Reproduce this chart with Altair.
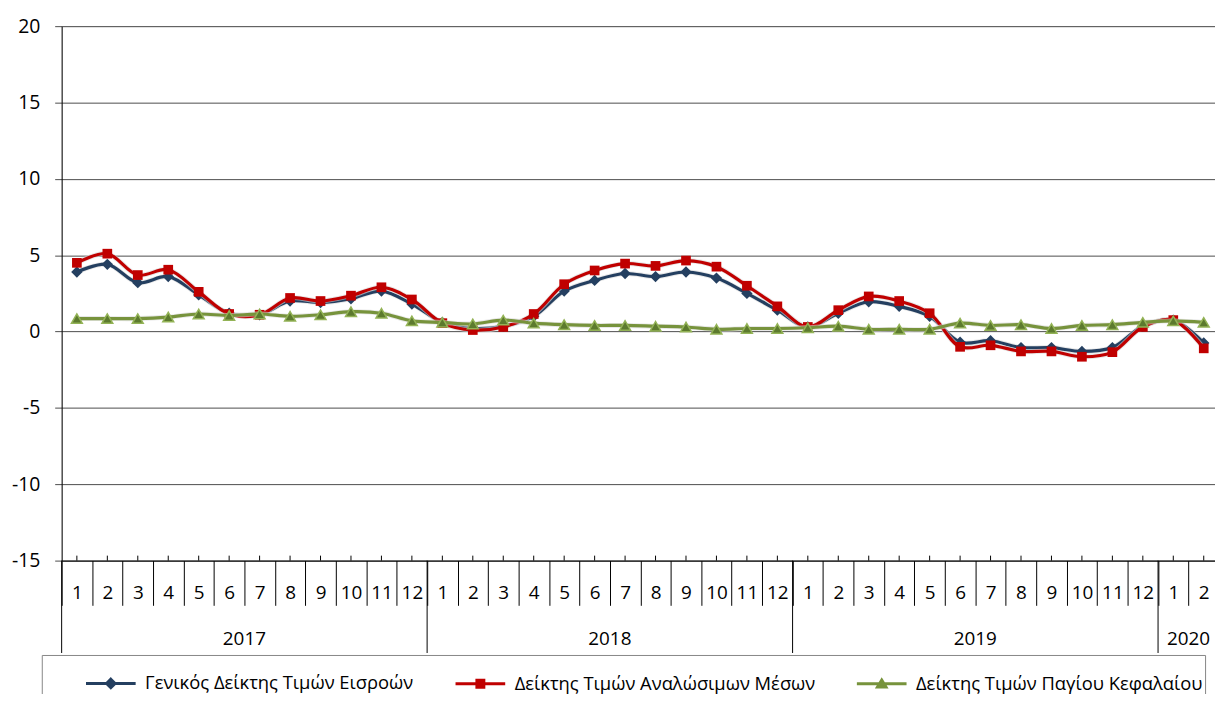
import altair as alt
import pandas as pd

FONT = "Open Sans"

YEARS = ["2017"] * 12 + ["2018"] * 12 + ["2019"] * 12 + ["2020"] * 2
MONTHS = [str(m) for m in range(1, 13)] * 3 + ["1", "2"]

SERIES = [
    "Γενικός Δείκτης Τιμών Εισροών",
    "Δείκτης Τιμών Αναλώσιμων Μέσων",
    "Δείκτης Τιμών Παγίου Κεφαλαίου",
]
COLORS = ["#243F60", "#C00000", "#77933C"]

general = [3.9, 4.4, 3.2, 3.6, 2.4, 1.2, 1.1, 2.0, 1.9, 2.15, 2.65, 1.8,
           0.6, 0.2, 0.35, 1.0, 2.65, 3.35, 3.8, 3.6, 3.9, 3.5, 2.5, 1.4,
           0.3, 1.2, 1.95, 1.65, 1.0, -0.7, -0.6, -1.05, -1.05, -1.3, -1.05, 0.35,
           0.75, -0.75]
consumables = [4.5, 5.1, 3.7, 4.05, 2.6, 1.15, 1.1, 2.2, 2.0, 2.35, 2.9, 2.1,
               0.55, 0.1, 0.3, 1.15, 3.1, 4.0, 4.45, 4.3, 4.65, 4.25, 3.0, 1.65,
               0.3, 1.4, 2.3, 2.0, 1.2, -1.0, -0.9, -1.3, -1.3, -1.65, -1.35, 0.3,
               0.75, -1.1]
capital = [0.85, 0.85, 0.85, 0.95, 1.15, 1.05, 1.15, 1.0, 1.1, 1.3, 1.2, 0.7,
           0.6, 0.5, 0.75, 0.55, 0.45, 0.4, 0.4, 0.35, 0.3, 0.15, 0.2, 0.2,
           0.25, 0.35, 0.15, 0.15, 0.15, 0.55, 0.4, 0.45, 0.2, 0.4, 0.45, 0.6,
           0.7, 0.6]

YEAR_LABELS = ["2017", "2018", "2019", "2020"]
YEAR_START = ["2017-1", "2018-1", "2019-1", "2020-1"]
YEAR_MID = ["2017-7", "2018-7", "2019-7", "2020-2"]

KEYS = [f"{y}-{m}" for y, m in zip(YEARS, MONTHS)]
VALUES = [general, consumables, capital]

rows = []
for s, vals in zip(SERIES, VALUES):
    for k, v in zip(KEYS, vals):
        rows.append({"key": k, "series": s, "value": v})
df = pd.DataFrame(rows)
keys_df = pd.DataFrame({"key": KEYS})
years_df = pd.DataFrame({"start": YEAR_START, "mid": YEAR_MID, "year": YEAR_LABELS})

W, H = 1161, 538

xscale = alt.Scale(type="band", domain=KEYS, range=[0, 1165], paddingInner=0, paddingOuter=0)
yscale = alt.Scale(domain=[-15, 20])

xaxis = alt.Axis(title=None, labelExpr="split(datum.value, '-')[1]", labelAngle=0,
                 labelAlign="center",
                 labelFont=FONT, labelFontSize=19, labelColor="#000",
                 tickBand="extent", tickSize=45, tickColor="#000", tickWidth=1,
                 domainColor="#000", domainWidth=1, labelPadding=-13,
                 labelBaseline="middle", labelOverlap=False, grid=False)
yaxis = alt.Axis(title=None, values=[-15, -10, -5, 0, 5, 10, 15, 20],
                 labelExpr="'' + datum.value",
                 labelFont=FONT, labelFontSize=19.5, labelColor="#000",
                 tickSize=7, tickColor="#4d4d4d", labelPadding=15,
                 domainColor="#000", domainWidth=1, grid=True,
                 gridColor="#4d4d4d", gridWidth=1)

SYMBOL_PATHS = [
    "M-1,0L1,0M0,-0.17L0.17,0L0,0.17L-0.17,0Z",
    "M-1,0L1,0M-0.14,-0.14L0.14,-0.14L0.14,0.14L-0.14,0.14Z",
    "M-1,0L1,0M0,-0.15L0.17,0.13L-0.17,0.13Z",
]
shape_expr = "'" + SYMBOL_PATHS[2] + "'"
for s, p in reversed(list(zip(SERIES[:2], SYMBOL_PATHS[:2]))):
    shape_expr = f"datum.value === '{s}' ? '{p}' : ({shape_expr})"

legend = alt.Legend(
    title=" ", titleOrient="left", titleFontSize=1, titlePadding=41,
    orient="none", legendX=-20, legendY=633, direction="horizontal",
    padding=2, strokeColor="#868686", fillColor="white",
    labelFont=FONT, labelFontSize=18.5, labelColor="#000", labelOffset=8,
    labelLimit=0, columnPadding=35, symbolSize=2500, symbolStrokeWidth=3,
    symbolType={"expr": shape_expr},
    symbolStrokeColor={"expr": "scale('color', datum.value)"},
    symbolFillColor={"expr": "scale('color', datum.value)"},
)

color = alt.Color("series:N", scale=alt.Scale(domain=SERIES, range=COLORS), legend=legend)

base = alt.Chart(df).encode(
    x=alt.X("key:O", scale=xscale, axis=xaxis, sort=KEYS),
    y=alt.Y("value:Q", scale=yscale, axis=yaxis),
)

MARKERS = [
    dict(shape="diamond", size=130, filled=True, color=COLORS[0], opacity=1),
    dict(shape="square", size=95, filled=True, color=COLORS[1], opacity=1),
    dict(shape="triangle-up", size=120, filled=True, fill="#5C7A2E", stroke="#93B356", strokeWidth=1.5, opacity=1),
]

layers = []
for s, mk in zip(SERIES, MARKERS):
    sub = base.transform_filter(alt.datum.series == s)
    layers.append(sub.mark_line(interpolate="catmull-rom", strokeWidth=5, color="#d9d9d9", opacity=0.6))
    layers.append(sub.mark_line(interpolate="catmull-rom", strokeWidth=3.2).encode(color=color))
    layers.append(sub.mark_point(**mk))

center_ticks = alt.Chart(keys_df).mark_rule(color="#000", strokeWidth=1).encode(
    x=alt.X("key:O", scale=xscale, sort=KEYS),
    y=alt.value(H - 5), y2=alt.value(H),
)
year_rules = alt.Chart(years_df).mark_rule(color="#000", strokeWidth=1).encode(
    x=alt.X("start:O", scale=xscale, bandPosition=0, sort=KEYS),
    y=alt.value(H), y2=alt.value(H + 93),
)
year_text = alt.Chart(years_df).mark_text(font=FONT, fontSize=19, color="#000",
                                          baseline="middle", align="center").encode(
    x=alt.X("mid:O", scale=xscale, bandPosition=0, sort=KEYS),
    y=alt.value(H + 79), text="year:N",
)

chart = alt.layer(center_ticks, year_rules, year_text, *layers).properties(
    width=W, height=H,
    autosize=alt.AutoSizeParams(type="none"),
    padding={"left": 54, "top": 16, "right": 0, "bottom": 132},
).configure_view(stroke=None).configure(background="white")

chart.save("out.html", embed_options={"renderer": "svg", "actions": False})
